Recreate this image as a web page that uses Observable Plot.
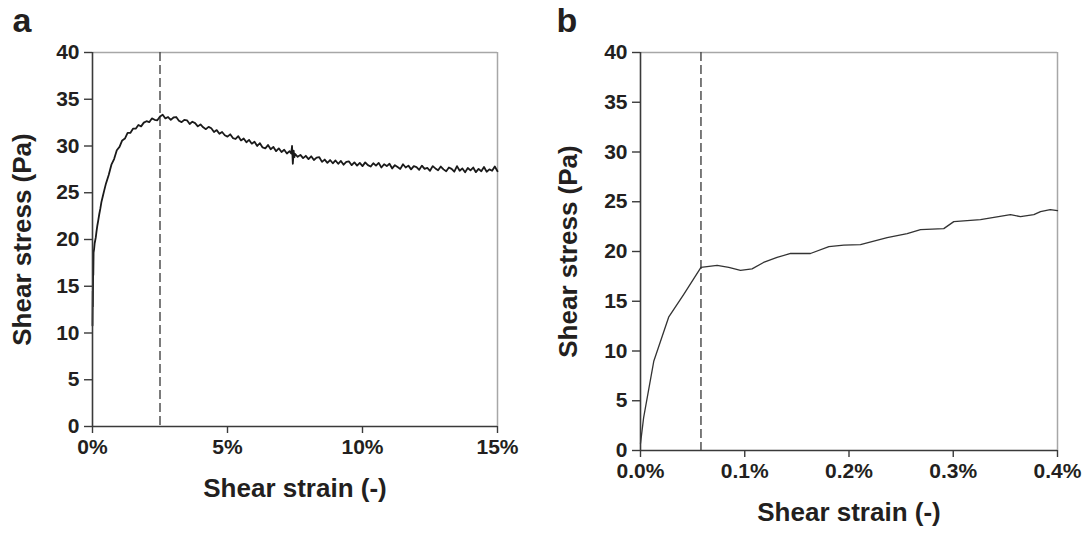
<!DOCTYPE html>
<html>
<head>
<meta charset="utf-8">
<script src="https://cdn.jsdelivr.net/npm/d3@7"></script>
<script src="https://cdn.jsdelivr.net/npm/@observablehq/plot@0.6"></script>
<style>
  html, body { margin: 0; padding: 0; background: #fff; }
  #wrap { position: relative; width: 1091px; height: 533px; overflow: hidden; }
  #wrap svg { position: absolute; top: 0; }
</style>
</head>
<body>
<div id="wrap"></div>
<script>
// ---------- Panel a: shear strain (%) vs shear stress (Pa) ----------
const strainA = [
  0, 0.01, 0.015, 0.025, 0.03, 0.04, 0.06, 0.08, 0.12, 0.15, 0.18, 0.21, 0.25, 0.29, 0.33, 0.38, 0.43,
  0.5, 0.6, 0.7, 0.8, 0.9,
  1.0, 1.1, 1.2, 1.3, 1.4, 1.5, 1.6, 1.7, 1.8, 1.9,
  2.0, 2.1, 2.2, 2.3, 2.4, 2.5, 2.6, 2.7, 2.8, 2.9,
  3.0, 3.1, 3.2, 3.3, 3.4, 3.5, 3.6, 3.7, 3.8, 3.9,
  4.0, 4.1, 4.2, 4.3, 4.4, 4.5, 4.6, 4.7, 4.8, 4.9,
  5.0, 5.1, 5.2, 5.3, 5.4, 5.5, 5.6, 5.7, 5.8, 5.9,
  6.0, 6.1, 6.2, 6.3, 6.4, 6.5, 6.6, 6.7, 6.8, 6.9,
  7.0, 7.1, 7.2, 7.3, 7.36, 7.39, 7.42, 7.45, 7.48,
  7.5, 7.6, 7.7, 7.8, 7.9,
  8.0, 8.1, 8.2, 8.3, 8.4, 8.5, 8.6, 8.7, 8.8, 8.9,
  9.0, 9.1, 9.2, 9.3, 9.4, 9.5, 9.6, 9.7, 9.8, 9.9,
  10.0, 10.1, 10.2, 10.3, 10.4, 10.5, 10.6, 10.7, 10.8, 10.9,
  11.0, 11.1, 11.2, 11.3, 11.4, 11.5, 11.6, 11.7, 11.8, 11.9,
  12.0, 12.1, 12.2, 12.3, 12.4, 12.5, 12.6, 12.7, 12.8, 12.9,
  13.0, 13.1, 13.2, 13.3, 13.4, 13.5, 13.6, 13.7, 13.8, 13.9,
  14.0, 14.1, 14.2, 14.3, 14.4, 14.5, 14.6, 14.7, 14.8, 14.9,
  15.0
];
const stressA = [
  10.8, 14.5, 12.8, 17.6, 16.2, 18.6, 19.0, 19.6, 20.2, 20.9, 21.5, 22.0, 22.7, 23.3, 24.0, 24.6, 25.2,
  26.0, 26.9, 28.0, 28.6, 29.55,
  29.9, 30.6, 30.8, 31.4, 31.4, 31.85, 31.85, 32.25, 32.1, 32.5,
  32.65, 32.55, 32.95, 32.8, 32.75, 33.15, 33.35, 32.95, 33.1, 32.8,
  33.05, 33.1, 32.7, 32.55, 32.8, 32.75, 32.35, 32.6, 32.45, 32.1,
  32.3, 32.0, 31.8, 32.05, 31.9, 31.5, 31.7, 31.3, 31.5, 31.15,
  31.0, 31.25, 30.85, 30.75, 31.05, 30.6, 30.8, 30.4, 30.65, 30.25,
  30.45, 30.0, 30.3, 29.85, 29.75, 30.1, 29.65, 29.9, 29.45, 29.75,
  29.35, 29.6, 29.2, 29.45, 29.2, 30.0, 28.1, 29.5, 28.8,
  29.15, 28.85, 29.05, 28.7, 28.95,
  28.6, 28.9, 28.5, 28.75, 28.8, 28.3, 28.55, 28.2, 28.5, 28.15,
  28.45, 28.1, 28.4, 28.0, 28.3, 28.35, 27.95, 28.25, 27.9, 28.2,
  27.85, 28.25, 27.95, 27.8, 28.15, 27.9, 28.2, 27.7, 28.05, 27.85,
  28.1, 27.6, 27.95, 27.75, 27.55, 28.05, 27.7, 27.9, 27.5, 27.85,
  27.75, 27.45, 27.9, 27.55, 27.65, 27.35, 27.85, 27.6, 27.4, 27.8,
  27.5, 27.3, 27.7, 27.55, 27.25, 27.85, 27.35, 27.6, 27.2, 27.65,
  27.4, 27.7, 27.2, 27.55, 27.3, 27.75, 27.25, 27.5, 27.35, 27.8,
  27.3
];
const yieldA = [2.5];
const xTicksA = [0, 5, 10, 15];

// ---------- Panel b ----------
const strainB = [0, 0.003, 0.0128, 0.027, 0.0415, 0.058, 0.0735, 0.0847, 0.0959, 0.107, 0.118, 0.131,
  0.144, 0.1535, 0.163, 0.1807, 0.195, 0.211, 0.2366, 0.2558, 0.2686, 0.2909, 0.3005, 0.3261,
  0.3549, 0.3645, 0.3773, 0.3837, 0.393, 0.4];
const stressB = [0.7, 3.3, 9.0, 13.4, 15.7, 18.4, 18.6, 18.4, 18.1, 18.25, 18.9, 19.4,
  19.8, 19.8, 19.8, 20.5, 20.65, 20.7, 21.4, 21.8, 22.2, 22.3, 23.0, 23.2,
  23.7, 23.5, 23.7, 24.0, 24.2, 24.1];
const yieldB = [0.058];
const xTicksB = [0, 0.1, 0.2, 0.3, 0.4];

const yTicks = [0, 5, 10, 15, 20, 25, 30, 35, 40];
const xTitle = "Shear strain (-)";
const yTitle = "Shear stress (Pa)";

const dataA = strainA.map((s, i) => ({strain: s, stress: stressA[i]}));
const dataB = strainB.map((s, i) => ({strain: s, stress: stressB[i]}));

const FONT = "'Liberation Sans', Arial, Helvetica, sans-serif";
const INK = "#231f20";

function panel({data, xDomain, xTicks, xFmt, yieldAt, letter, width, height, mL, mR, mT, mB, lineColor, lineWidth, yTitleDx, letterDx}) {
  return Plot.plot({
    width, height,
    marginLeft: mL, marginRight: mR, marginTop: mT, marginBottom: mB,
    style: {fontFamily: FONT, color: INK, background: "transparent", overflow: "visible"},
    x: {domain: xDomain, ticks: xTicks, tickFormat: xFmt},
    y: {domain: [0, 40], ticks: yTicks},
    marks: [
      Plot.ruleY([40], {stroke: "#a7a7a7", strokeWidth: 1.5}),
      Plot.ruleX([xDomain[1]], {stroke: "#a7a7a7", strokeWidth: 1.5}),
      Plot.ruleX(yieldAt, {stroke: "#444", strokeWidth: 1.4, strokeDasharray: "9,4"}),
      Plot.line(data, {x: "strain", y: "stress", stroke: lineColor, strokeWidth: lineWidth, strokeLinejoin: "round"}),
      Plot.ruleX([0], {stroke: "#3a3a3a", strokeWidth: 1.6}),
      Plot.ruleY([0], {stroke: "#3a3a3a", strokeWidth: 1.6}),
      Plot.axisY({ticks: yTicks, tickSize: 8, tickPadding: 5, label: null, fontSize: 21, fontWeight: "bold", stroke: "#3a3a3a", strokeWidth: 1.4}),
      Plot.axisX({ticks: xTicks, tickFormat: xFmt, tickSize: 7, tickPadding: 6, label: null, fontSize: 21, fontWeight: "bold", stroke: "#3a3a3a", strokeWidth: 1.4}),
      Plot.text([xTitle], {text: d => d, frameAnchor: "bottom", lineAnchor: "middle", textAnchor: "middle", dy: 62, fontSize: 26, fontWeight: "bold", fill: INK}),
      Plot.text([yTitle], {text: d => d, frameAnchor: "left", lineAnchor: "middle", textAnchor: "middle", rotate: -90, dx: yTitleDx, fontSize: 26, fontWeight: "bold", fill: INK}),
      Plot.text([letter], {text: d => d, frameAnchor: "top-left", lineAnchor: "bottom", textAnchor: "start", dx: letterDx, dy: -21, fontSize: 34, fontWeight: "bold", fill: INK})
    ]
  });
}

const svgA = panel({
  data: dataA, xDomain: [0, 15], xTicks: xTicksA, xFmt: d => d + "%", yieldAt: yieldA, letter: "a",
  width: 545, height: 533, mL: 92, mR: 48, mT: 52, mB: 107,
  lineColor: "#1a1a1a", lineWidth: 1.8, yTitleDx: -70, letterDx: -80
});
const svgB = panel({
  data: dataB, xDomain: [0, 0.4], xTicks: xTicksB, xFmt: d => d.toFixed(1) + "%", yieldAt: yieldB, letter: "b",
  width: 546, height: 533, mL: 95, mR: 34, mT: 52, mB: 83,
  lineColor: "#333", lineWidth: 1.3, yTitleDx: -72, letterDx: -84
});
svgA.style.left = "0px";
svgB.style.left = "545px";
const wrap = document.getElementById("wrap");
wrap.appendChild(svgA);
wrap.appendChild(svgB);
</script>
</body>
</html>
